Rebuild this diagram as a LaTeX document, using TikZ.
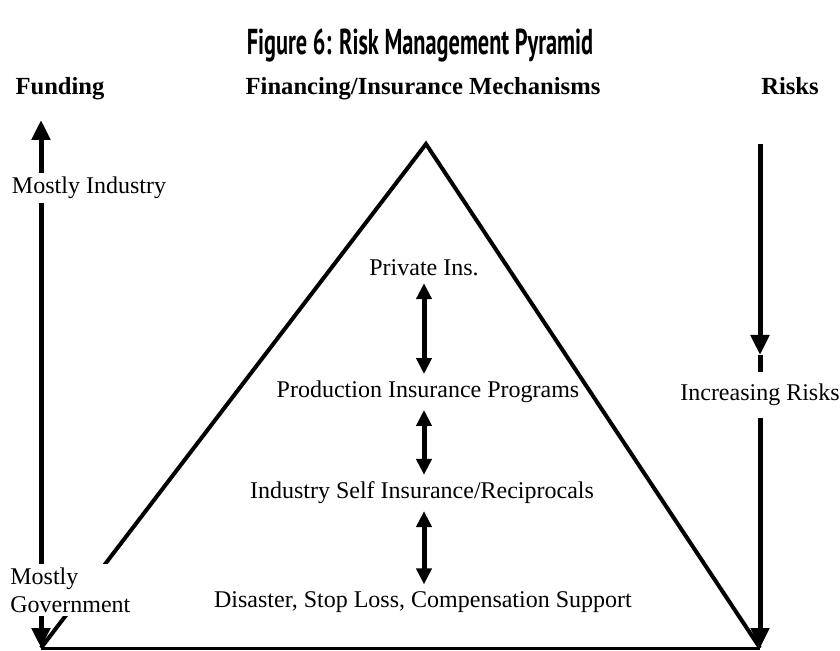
\documentclass[tikz,border=0pt]{standalone}
\usepackage{fontspec}
\setmainfont{Liberation Serif}
\newfontfamily\titlefont{PT Sans}
\usetikzlibrary{arrows.meta}

\tikzset{
  tip/.tip={Triangle[width=9pt,length=10pt]},
  smalltip/.tip={Triangle[width=7.5pt,length=8pt]},
  bigarrow/.style={line width=2.5pt,-tip},
  fundarrow/.style={line width=2.5pt,tip-tip},
  dblarrow/.style={line width=2.5pt,smalltip-smalltip},
  head/.style={font=\fontsize{12.3}{14}\selectfont\bfseries,anchor=base},
  lbl/.style={fill=white,inner sep=2pt}
}

\begin{document}
\begin{tikzpicture}[x=0.5pt,y=-0.5pt,font=\fontsize{12}{14}\selectfont]
\useasboundingbox (0,0) rectangle (840,651);

\node (title) at (420,45){\titlefont\bfseries\fontsize{18}{20}\selectfont\scalebox{0.62}[1]{Figure 6: Risk Management Pyramid}};
\node[head] (funding) at (60,95){Funding};
\node[head] (mech) at (423,95){Financing/Insurance Mechanisms};
\node[head] (risks) at (790,95){Risks};

\coordinate (apex) at (426,144);
\coordinate (baseL) at (41,648);
\coordinate (baseR) at (760,648);
\draw[line width=2pt] (baseL) -- (apex) -- (baseR);
\draw[line width=1.5pt] (baseL) -- (baseR);

\coordinate (fundTop) at (41,120);
\draw[fundarrow] (baseL) -- (fundTop);

\coordinate (riskTop) at (760,144);
\coordinate (riskMid) at (760,355);
\draw[bigarrow] (riskTop) -- (riskMid);
\draw[bigarrow] (riskMid) -- (baseR);

\node[lbl] (industry) at (89,188){Mostly Industry};
\node[lbl,align=left,anchor=west] (govt) at (6,590){Mostly\\Government};
\node[lbl,inner ysep=6pt] (incr) at (760,395){Increasing Risks};

\node (priv) at (424,268){Private Ins.};
\node (prod) at (428,392){Production Insurance Programs};
\node (self) at (422,493){Industry Self Insurance/Reciprocals};
\node (disaster) at (423,602){Disaster, Stop Loss, Compensation Support};

\draw[dblarrow] (priv.south) -- (priv.south |- prod.north);
\draw[dblarrow] (priv.south |- prod.south) -- (priv.south |- self.north);
\draw[dblarrow] (priv.south |- self.south) -- (priv.south |- disaster.north);
\end{tikzpicture}
\end{document}
